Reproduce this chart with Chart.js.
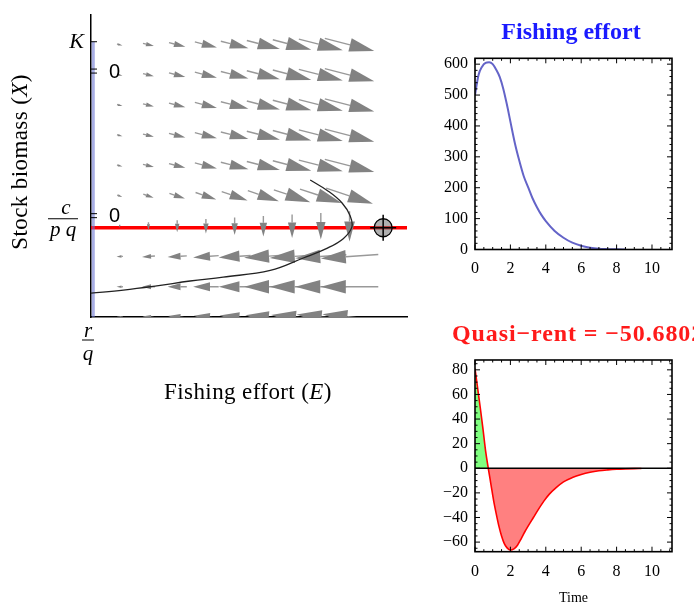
<!DOCTYPE html>
<html>
<head>
<meta charset="utf-8">
<script src="https://cdn.jsdelivr.net/npm/chart.js@4.4.1/dist/chart.umd.min.js"></script>
<style>
  html, body { margin: 0; padding: 0; background: #fff; }
  body { width: 694px; height: 607px; position: relative; overflow: hidden; }
  canvas { position: absolute; }
  #phase { left: 0; top: 0; }
  #effort { left: 430px; top: 0; }
  #rent { left: 430px; top: 290px; }
</style>
</head>
<body>
<canvas id="phase" width="430" height="420"></canvas>
<canvas id="effort" width="264" height="290"></canvas>
<canvas id="rent" width="264" height="317"></canvas>
<script>
// ---- phase plane: fishing effort E (x) against stock biomass X (y) ----
const fieldE = [1, 2, 3, 4, 5, 6, 7, 8, 9];
const fieldX = [0, 1, 2, 3, 4, 5, 6, 7, 8, 9];
// arrow components per row of fieldX (E units, X units)
const fieldU = [
  [-0.21, -0.42, -0.63, -0.84, -1.05, -1.26, -1.47, -1.68, -1.89],
  [-0.22, -0.45, -0.67, -0.89, -1.11, -1.34, -1.56, -1.78, -2.0],
  [-0.22, -0.45, -0.67, -0.89, -1.11, -1.34, -1.56, -1.78, -2.0],
  [0, 0, 0, 0, 0, 0, 0, 0, 0],
  [0.18, 0.36, 0.54, 0.72, 0.9, 1.08, 1.27, 1.45, 1.63],
  [0.19, 0.38, 0.57, 0.77, 0.96, 1.15, 1.34, 1.53, 1.72],
  [0.19, 0.38, 0.57, 0.77, 0.96, 1.15, 1.34, 1.53, 1.72],
  [0.19, 0.38, 0.57, 0.77, 0.96, 1.15, 1.34, 1.53, 1.72],
  [0.19, 0.38, 0.57, 0.77, 0.96, 1.15, 1.34, 1.53, 1.72],
  [0.19, 0.38, 0.57, 0.77, 0.96, 1.15, 1.34, 1.53, 1.72]
];
const fieldV = [
  [0.02, 0.04, 0.06, 0.08, 0.1, 0.12, 0.14, 0.16, 0.18],
  [0, 0, 0, 0, 0, 0, 0, 0, 0],
  [-0.01, -0.03, -0.04, -0.06, -0.07, -0.09, -0.1, -0.12, -0.13],
  [-0.1, -0.26, -0.39, -0.48, -0.58, -0.68, -0.77, -0.87, -1.0],
  [-0.06, -0.12, -0.17, -0.23, -0.29, -0.35, -0.41, -0.46, -0.52],
  [-0.05, -0.09, -0.14, -0.19, -0.23, -0.28, -0.33, -0.37, -0.42],
  [-0.05, -0.09, -0.14, -0.19, -0.23, -0.28, -0.33, -0.37, -0.42],
  [-0.05, -0.09, -0.14, -0.19, -0.23, -0.28, -0.33, -0.37, -0.42],
  [-0.05, -0.09, -0.14, -0.19, -0.23, -0.28, -0.33, -0.37, -0.42],
  [-0.05, -0.09, -0.14, -0.19, -0.23, -0.28, -0.33, -0.37, -0.42]
];
const pathE = [0, 1.13, 2.29, 3.45, 4.6, 6.24, 7.39, 8.21, 8.78, 9.08, 9.02, 8.74, 8.26, 7.63];
const pathX = [0.79, 0.89, 1.03, 1.19, 1.32, 1.54, 1.95, 2.27, 2.59, 2.97, 3.35, 3.77, 4.16, 4.53];
const nullX = 2.95;      // c / pq
const levelK = 9.1;      // K
const zeroTicks = [8.13, 3.35];
const eqE = [10.17];
const eqX = [2.95];

// ---- fishing effort over time ----
const effortT = [0, 0.2, 0.4, 0.6, 0.8, 1.0, 1.2, 1.4, 1.6, 1.8, 2.0, 2.25, 2.5, 2.75, 3.0, 3.25, 3.5, 3.75, 4.0, 4.5, 5.0, 5.5, 6.0, 6.5, 7.0, 7.5, 8.0, 8.5];
const effortE = [500, 565, 592, 604, 606, 600, 582, 558, 520, 470, 414, 345, 288, 238, 202, 166, 137, 112, 92, 60, 38, 22, 12, 6, 2.5, 1.2, 0.5, 0];
const effortYTicks = [0, 100, 200, 300, 400, 500, 600];

// ---- quasi-rent over time ----
const rentT = [0, 0.15, 0.3, 0.45, 0.6, 0.75, 0.9, 1.05, 1.2, 1.35, 1.5, 1.65, 1.8, 2.0, 2.2, 2.4, 2.6, 2.8, 3.0, 3.3, 3.6, 3.9, 4.2, 4.6, 5.0, 5.5, 6.0, 6.5, 7.0, 7.5, 8.0, 8.5, 9.0, 9.4];
const rentR = [81, 65, 49, 32, 14, 0, -13, -26, -37, -47, -55, -61, -64.5, -66.5, -65.5, -62.5, -57.5, -52, -47, -40, -33, -26.5, -21, -15.5, -11, -7.5, -5, -3.2, -2, -1.3, -0.8, -0.5, -0.3, -0.2];
const rentYTicks = [-60, -40, -20, 0, 20, 40, 60, 80];
const timeTicks = [0, 2, 4, 6, 8, 10];

const SERIF = '"Liberation Serif", "Times New Roman", serif';

function pts(xs, ys) {
  return xs.map((x, i) => ({ x: x, y: ys[i] }));
}

function drawArrow(ctx, x1, y1, x2, y2) {
  const dx = x2 - x1, dy = y2 - y1, len = Math.hypot(dx, dy);
  if (len < 0.5) return;
  const ux = dx / len, uy = dy / len;
  const hl = Math.min(0.62 * len + 1, 25), hw = 0.27 * hl;
  const bx = x2 - ux * hl, by = y2 - uy * hl;
  ctx.beginPath();
  ctx.moveTo(x1, y1);
  ctx.lineTo(bx, by);
  ctx.stroke();
  ctx.beginPath();
  ctx.moveTo(x2, y2);
  ctx.lineTo(bx - uy * hw, by + ux * hw);
  ctx.lineTo(bx + uy * hw, by - ux * hw);
  ctx.closePath();
  ctx.fill();
}

function mixedText(ctx, parts, cx, cy) {
  let total = 0;
  parts.forEach(p => { ctx.font = p.font; p.w = ctx.measureText(p.t).width; total += p.w; });
  let x = cx - total / 2;
  ctx.textAlign = 'left';
  ctx.textBaseline = 'middle';
  parts.forEach(p => { ctx.font = p.font; ctx.fillText(p.t, x, cy); x += p.w; });
}

const phaseDecor = {
  id: 'phaseDecor',
  afterDatasetDraw(chart, args) {
    if (chart.data.datasets[args.index].label !== 'nullcline') return;
    const { ctx, chartArea: a, scales: { x, y } } = chart;
    ctx.save();
    ctx.beginPath();
    ctx.rect(a.left, a.top, a.right - a.left, a.bottom - a.top);
    ctx.clip();
    ctx.strokeStyle = '#999999';
    ctx.fillStyle = '#828282';
    ctx.lineWidth = 1.4;
    fieldX.forEach((xv, r) => {
      fieldE.forEach((ev, c) => {
        const u = fieldU[r][c], v = fieldV[r][c];
        drawArrow(ctx,
          x.getPixelForValue(ev - u / 2), y.getPixelForValue(xv - v / 2),
          x.getPixelForValue(ev + u / 2), y.getPixelForValue(xv + v / 2));
      });
    });
    ctx.restore();
  },
  afterDraw(chart) {
    const { ctx, chartArea: a, scales: { x, y } } = chart;
    ctx.save();
    ctx.fillStyle = '#000';
    ctx.strokeStyle = '#000';
    ctx.lineWidth = 1;
    // K
    const yk = y.getPixelForValue(levelK);
    ctx.beginPath(); ctx.moveTo(a.left, yk); ctx.lineTo(a.left + 6, yk); ctx.stroke();
    ctx.font = 'italic 22px ' + SERIF;
    ctx.textAlign = 'right'; ctx.textBaseline = 'middle';
    ctx.fillText('K', a.left - 7, yk);
    // stray zero ticks
    zeroTicks.forEach(v => {
      const yp = y.getPixelForValue(v);
      ctx.beginPath();
      ctx.moveTo(a.left, yp - 2); ctx.lineTo(a.left + 6, yp - 2);
      ctx.moveTo(a.left, yp + 2); ctx.lineTo(a.left + 6, yp + 2);
      ctx.stroke();
      ctx.font = '20px "Liberation Sans", sans-serif';
      ctx.textAlign = 'left';
      ctx.fillText('0', a.left + 18, yp + 1);
    });
    // c / pq
    const yn = y.getPixelForValue(nullX) - 9;
    ctx.beginPath(); ctx.moveTo(a.left - 43, yn); ctx.lineTo(a.left - 13, yn); ctx.stroke();
    ctx.font = 'italic 21px ' + SERIF;
    ctx.textAlign = 'center';
    ctx.fillText('c', a.left - 25, yn - 10);
    ctx.fillText('p q', a.left - 28, yn + 12);
    // r / q
    const x0 = x.getPixelForValue(0) - 3;
    ctx.beginPath(); ctx.moveTo(x0 - 6, a.bottom + 23); ctx.lineTo(x0 + 6, a.bottom + 23); ctx.stroke();
    ctx.fillText('r', x0, a.bottom + 14);
    ctx.fillText('q', x0, a.bottom + 37);
    // axis titles
    ctx.letterSpacing = '0.4px';
    mixedText(ctx, [
      { t: 'Fishing effort (', font: '23px ' + SERIF },
      { t: 'E', font: 'italic 23px ' + SERIF },
      { t: ')', font: '23px ' + SERIF }
    ], 248, 393);
    ctx.translate(21, 162);
    ctx.rotate(-Math.PI / 2);
    mixedText(ctx, [
      { t: 'Stock biomass (', font: '23px ' + SERIF },
      { t: 'X', font: 'italic 23px ' + SERIF },
      { t: ')', font: '23px ' + SERIF }
    ], 0, 0);
    ctx.restore();
  }
};

new Chart(document.getElementById('phase'), {
  type: 'scatter',
  data: {
    datasets: [{
      label: 'nullcline',
      data: [{ x: 0, y: nullX }, { x: 11, y: nullX }],
      showLine: true, borderColor: '#ff0000', borderWidth: 3.5, pointRadius: 0, order: 4
    }, {
      label: 'axis path',
      data: [{ x: 0.08, y: 0 }, { x: 0.08, y: levelK }],
      showLine: true, borderColor: 'rgba(110,120,210,0.6)', borderWidth: 3, pointRadius: 0, order: 3
    }, {
      label: 'trajectory',
      data: pts(pathE, pathX),
      showLine: true, borderColor: '#222', borderWidth: 1.3, pointRadius: 0, tension: 0.4, order: 2
    }, {
      label: 'equilibrium',
      data: pts(eqE, eqX),
      pointStyle: 'circle', pointRadius: 9, pointBackgroundColor: 'rgba(110,110,110,0.55)',
      pointBorderColor: '#000', pointBorderWidth: 1.3, order: 1
    }, {
      label: 'cross',
      data: pts(eqE, eqX),
      pointStyle: 'cross', pointRadius: 13, pointBorderColor: '#000', pointBorderWidth: 1.5, order: 0
    }]
  },
  options: {
    responsive: false,
    animation: false,
    layout: { padding: { left: 91, top: 7, right: 23, bottom: 103 } },
    plugins: { legend: { display: false }, tooltip: { enabled: false } },
    scales: {
      x: {
        type: 'linear', min: 0, max: 11,
        ticks: { display: false }, grid: { display: false, drawTicks: false },
        border: { color: '#000', width: 1.5 }
      },
      y: {
        type: 'linear', min: 0, max: 10,
        ticks: { display: false }, grid: { display: false, drawTicks: false },
        border: { color: '#000', width: 1.5 }
      }
    }
  },
  plugins: [phaseDecor]
});

// ---- shared pieces for the two time plots ----
const frame = {
  id: 'frame',
  afterDatasetsDraw(chart, args, o) {
    const { ctx, chartArea: a, scales: { x, y } } = chart;
    ctx.save();
    ctx.strokeStyle = '#000';
    if (o.zeroLine) {
      const y0 = y.getPixelForValue(0);
      ctx.lineWidth = 1.6;
      ctx.beginPath(); ctx.moveTo(a.left, y0); ctx.lineTo(a.right, y0); ctx.stroke();
    }
    ctx.lineWidth = 1;
    const ticks = (scale, minor, major, draw) => {
      for (let i = Math.ceil(scale.min / minor - 1e-9); i * minor <= scale.max + 1e-9; i++) {
        const v = i * minor;
        const isMajor = Math.abs(v / major - Math.round(v / major)) < 1e-6;
        draw(scale.getPixelForValue(v), isMajor ? 5 : 2.5);
      }
    };
    ctx.beginPath();
    ticks(x, o.xMinor, o.xMajor, (p, l) => {
      ctx.moveTo(p, a.bottom); ctx.lineTo(p, a.bottom - l);
      ctx.moveTo(p, a.top); ctx.lineTo(p, a.top + l);
    });
    ticks(y, o.yMinor, o.yMajor, (p, l) => {
      ctx.moveTo(a.left, p); ctx.lineTo(a.left + l, p);
      ctx.moveTo(a.right, p); ctx.lineTo(a.right - l, p);
    });
    ctx.stroke();
    ctx.lineWidth = 1.6;
    ctx.strokeRect(a.left, a.top, a.right - a.left, a.bottom - a.top);
    ctx.restore();
  }
};

const headline = {
  id: 'headline',
  afterDraw(chart, args, o) {
    const ctx = chart.ctx;
    ctx.save();
    ctx.font = o.font;
    ctx.fillStyle = o.color;
    ctx.textAlign = o.align;
    ctx.textBaseline = 'middle';
    ctx.letterSpacing = o.spacing || '0px';
    ctx.fillText(o.text, o.x, o.y);
    ctx.restore();
  }
};

const minus = v => (v < 0 ? '\u2212' + Math.abs(v) : String(v));
const tickFont = { family: SERIF, size: 16 };

function timeAxis(height, title) {
  return {
    type: 'linear', min: 0, max: 11.13,
    afterBuildTicks: s => { s.ticks = timeTicks.map(v => ({ value: v })); },
    afterFit: s => { s.height = height; },
    ticks: { font: tickFont, color: '#000', padding: 10, maxRotation: 0 },
    grid: { display: false, drawTicks: false },
    border: { display: false },
    title: title
  };
}

function valueAxis(min, max, list) {
  return {
    type: 'linear', min: min, max: max,
    afterBuildTicks: s => { s.ticks = list.map(v => ({ value: v })); },
    afterFit: s => { s.width = 45; },
    ticks: { font: tickFont, color: '#000', padding: 7, callback: minus },
    grid: { display: false, drawTicks: false },
    border: { display: false }
  };
}

new Chart(document.getElementById('effort'), {
  type: 'line',
  data: {
    datasets: [{
      data: pts(effortT, effortE),
      borderColor: 'rgb(100,100,200)', borderWidth: 2, pointRadius: 0,
      cubicInterpolationMode: 'monotone', fill: false
    }]
  },
  options: {
    responsive: false,
    animation: false,
    layout: { padding: { left: 0, top: 58.3, right: 22, bottom: 0 } },
    plugins: {
      legend: { display: false }, tooltip: { enabled: false },
      frame: { xMinor: 0.5, xMajor: 2, yMinor: 20, yMajor: 100 },
      headline: { text: 'Fishing effort', x: 141, y: 33, align: 'center', color: '#1a1aff', font: 'bold 24px ' + SERIF }
    },
    scales: {
      x: timeAxis(40.5, { display: false }),
      y: valueAxis(0, 619, effortYTicks)
    }
  },
  plugins: [frame, headline]
});

new Chart(document.getElementById('rent'), {
  type: 'line',
  data: {
    datasets: [{
      data: pts(rentT, rentR),
      borderColor: '#ff0000', borderWidth: 1.6, pointRadius: 0,
      cubicInterpolationMode: 'monotone',
      fill: { target: { value: 0 }, above: 'rgb(128,255,128)', below: 'rgb(255,128,128)' }
    }]
  },
  options: {
    responsive: false,
    animation: false,
    layout: { padding: { left: 0, top: 70, right: 22, bottom: 0 } },
    plugins: {
      legend: { display: false }, tooltip: { enabled: false },
      frame: { xMinor: 0.5, xMajor: 2, yMinor: 5, yMajor: 20, zeroLine: true },
      headline: { text: 'Quasi\u2212rent = \u221250.6802', x: 22, y: 45, align: 'left', color: '#ff1a1a', font: 'bold 24px ' + SERIF, spacing: '0.9px' }
    },
    scales: {
      x: timeAxis(55.3, { display: true, text: 'Time', color: '#000', font: { family: SERIF, size: 14 }, padding: { top: 0, bottom: 0 } }),
      y: valueAxis(-67.8, 88, rentYTicks)
    }
  },
  plugins: [frame, headline]
});
</script>
</body>
</html>
